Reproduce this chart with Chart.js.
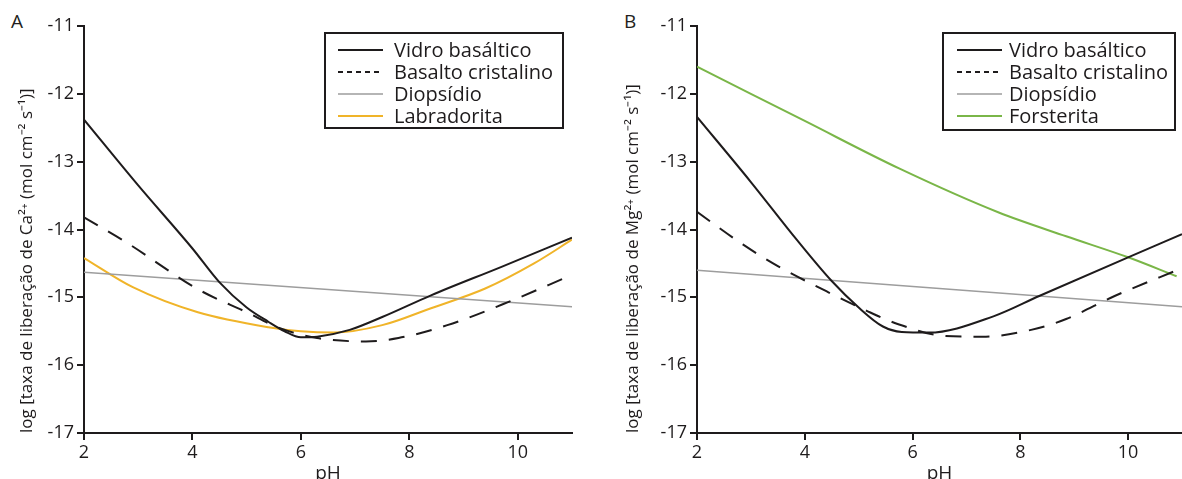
<!DOCTYPE html>
<html>
<head>
<meta charset="utf-8">
<script src="https://cdn.jsdelivr.net/npm/chart.js@4.4.1/dist/chart.umd.min.js"></script>
<style>
  body { margin: 0; background: #fff; width: 1182px; height: 479px; overflow: hidden; position: relative; font-family: 'Open Sans', sans-serif; }
  .panel { position: absolute; top: 0; height: 479px; }
  .tag { position: absolute; top: 12px; font-size: 19px; line-height: 19px; color: #231f20; }
</style>
</head>
<body>
<div class="tag" style="left:11px">A</div>
<div class="tag" style="left:624px">B</div>
<div class="panel" style="left:0;width:591px"><canvas id="chartA"></canvas></div>
<div class="panel" style="left:591px;width:591px"><canvas id="chartB"></canvas></div>

<script>
// eixos
const xTicks = [2, 4, 6, 8, 10]
const yTicks = [-17, -16, -15, -14, -13, -12, -11]

// painel A - Ca2+
const phA_vidro = [2, 3, 4, 4.5, 5, 5.4, 5.7, 6, 6.3, 6.9, 7.5, 8.4, 9.7, 11]
const caA_vidro = [-12.38, -13.35, -14.28, -14.78, -15.15, -15.36, -15.5, -15.59, -15.58, -15.48, -15.29, -14.97, -14.55, -14.12]
const phA_cristalino = [2, 2.8, 4.1, 5, 5.6, 6.3, 7.2, 7.8, 8.7, 9.7, 11]
const caA_cristalino = [-13.82, -14.2, -14.88, -15.22, -15.45, -15.6, -15.65, -15.6, -15.41, -15.11, -14.67]
const phA_diopsidio = [2, 11]
const caA_diopsidio = [-14.63, -15.14]
const phA_labradorita = [2, 2.9, 4.1, 5.4, 6, 6.6, 7.5, 8.4, 9.4, 10.3, 11]
const caA_labradorita = [-14.42, -14.85, -15.22, -15.44, -15.5, -15.52, -15.41, -15.16, -14.87, -14.5, -14.15]

// painel B - Mg2+
const phB_vidro = [2, 3, 3.85, 4.5, 5, 5.45, 5.8, 6.3, 7.5, 8.35, 10, 11]
const mgB_vidro = [-12.34, -13.3, -14.15, -14.76, -15.15, -15.43, -15.51, -15.52, -15.28, -14.98, -14.41, -14.07]
const phB_cristalino = [2, 2.85, 3.5, 4.4, 5.15, 5.75, 6.6, 7.3, 8.2, 8.85, 9.75, 11]
const mgB_cristalino = [-13.74, -14.22, -14.54, -14.91, -15.2, -15.4, -15.57, -15.58, -15.48, -15.32, -14.98, -14.57]
const phB_diopsidio = [2, 11]
const mgB_diopsidio = [-14.6, -15.14]
const phB_forsterita = [2, 4, 5.75, 7.6, 8.85, 10, 10.9]
const mgB_forsterita = [-11.6, -12.4, -13.1, -13.75, -14.1, -14.41, -14.69]

const INK = '#1e1b1c'
const FONT = "'Open Sans', sans-serif"

// legenda com moldura, desenhada no canvas
const boxLegend = {
   id: 'boxLegend',
   afterDraw(chart, args, o) {
      const ctx = chart.ctx
      ctx.save()
      ctx.setLineDash([])
      ctx.strokeStyle = INK
      ctx.lineWidth = 2
      ctx.strokeRect(o.x, o.y, o.w, o.h)
      ctx.font = '20px ' + FONT
      ctx.fillStyle = INK
      ctx.textBaseline = 'alphabetic'
      chart.data.datasets.forEach((ds, i) => {
         const yy = o.y + 17 + i * 22
         ctx.beginPath()
         ctx.setLineDash(ds.borderDash.length ? [5, 4] : [])
         ctx.strokeStyle = ds.borderColor
         ctx.lineWidth = ds.borderWidth
         ctx.moveTo(o.x1, yy)
         ctx.lineTo(o.x2, yy)
         ctx.stroke()
         ctx.setLineDash([])
         ctx.fillText(ds.label, o.tx, yy + 7)
      })
      ctx.restore()
   }
}

function serie(label, xs, ys, color, width, dash) {
   return {
      label: label,
      data: xs.map((v, i) => ({ x: v, y: ys[i] })),
      borderColor: color,
      borderWidth: width,
      borderDash: dash || [],
      pointRadius: 0,
      cubicInterpolationMode: 'monotone',
      fill: false
   }
}

function makeChart(id, datasets, cfg) {
   return new Chart(document.getElementById(id), {
      type: 'line',
      data: { datasets: datasets },
      options: {
         responsive: true,
         maintainAspectRatio: false,
         animation: false,
         layout: { padding: { top: 26, right: cfg.padRight, left: 0, bottom: 0 } },
         plugins: {
            legend: { display: false },
            tooltip: { enabled: false },
            boxLegend: cfg.legend
         },
         scales: {
            x: {
               type: 'linear',
               min: 2,
               max: 11,
               afterBuildTicks: s => { s.ticks = xTicks.map(v => ({ value: v })) },
               afterFit: s => { s.height = 46 },
               border: { color: INK, width: 2 },
               grid: { drawOnChartArea: false, drawTicks: true, tickLength: 7, color: INK, lineWidth: 2 },
               ticks: { color: INK, font: { size: 18, family: FONT }, padding: 2, maxRotation: 0 },
               title: { display: true, text: 'pH', color: INK, font: { size: 19, family: FONT, lineHeight: 1 }, padding: { top: 0, bottom: -4 } }
            },
            y: {
               type: 'linear',
               min: -17,
               max: -11,
               afterBuildTicks: s => { s.ticks = yTicks.map(v => ({ value: v })) },
               afterFit: s => { s.width = cfg.yWidth },
               border: { color: INK, width: 2 },
               grid: { drawOnChartArea: false, drawTicks: true, tickLength: 7, color: INK, lineWidth: 2 },
               ticks: { color: INK, font: { size: 18, family: FONT }, padding: 3 },
               title: { display: true, text: cfg.yTitle, align: 'start', color: INK, font: { size: 17, family: FONT, lineHeight: 1.2 }, padding: { top: cfg.titlePad, bottom: 0 } }
            }
         }
      },
      plugins: [boxLegend]
   })
}

makeChart('chartA', [
   serie('Vidro basáltico', phA_vidro, caA_vidro, INK, 2),
   serie('Basalto cristalino', phA_cristalino, caA_cristalino, INK, 2, [16, 12]),
   serie('Diopsídio', phA_diopsidio, caA_diopsidio, '#9d9d9d', 1.5),
   serie('Labradorita', phA_labradorita, caA_labradorita, '#f0b429', 2)
], {
   padRight: 19,
   yWidth: 84,
   titlePad: 17,
   yTitle: 'log [taxa de liberação de Ca²⁺ (mol cm⁻² s⁻¹)]',
   legend: { x: 325, y: 33, w: 238, h: 95, x1: 338, x2: 383, tx: 394 }
})

makeChart('chartB', [
   serie('Vidro basáltico', phB_vidro, mgB_vidro, INK, 2),
   serie('Basalto cristalino', phB_cristalino, mgB_cristalino, INK, 2, [16, 12]),
   serie('Diopsídio', phB_diopsidio, mgB_diopsidio, '#9d9d9d', 1.5),
   serie('Forsterita', phB_forsterita, mgB_forsterita, '#7ab648', 2)
], {
   padRight: 0,
   yWidth: 106,
   titlePad: 32,
   yTitle: 'log [taxa de liberação de Mg²⁺ (mol cm⁻² s⁻¹)]',
   legend: { x: 352, y: 33, w: 232, h: 97, x1: 366, x2: 411, tx: 418 }
})
</script>
</body>
</html>
